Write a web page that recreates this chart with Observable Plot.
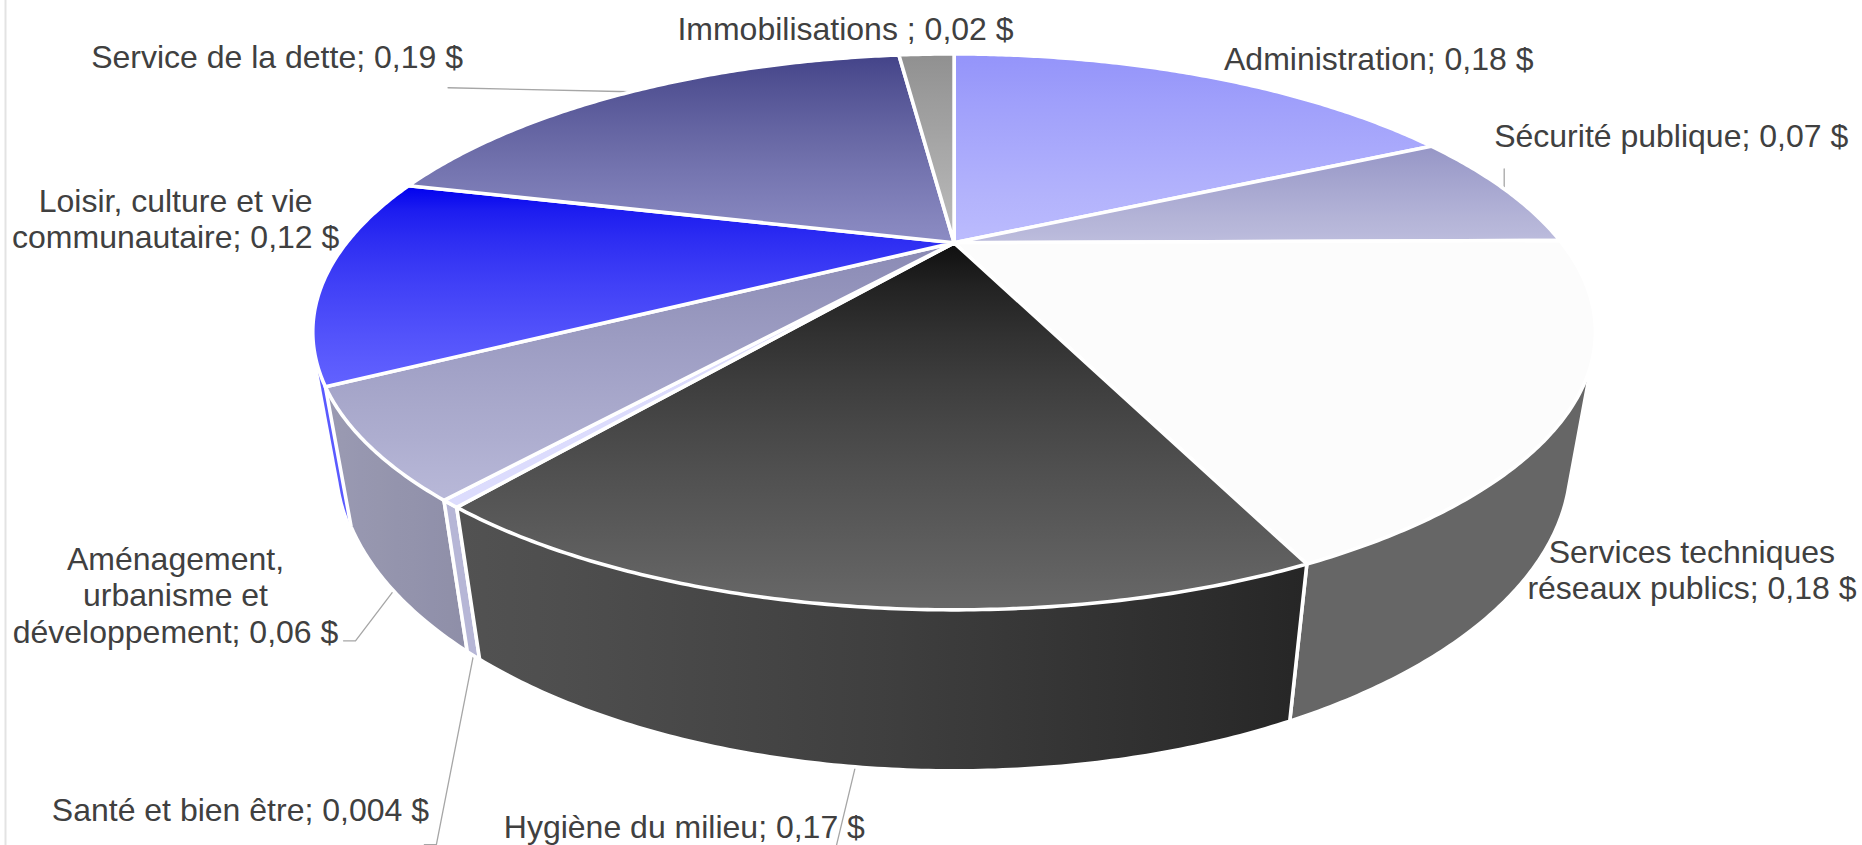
<!DOCTYPE html>
<html lang="fr">
<head>
<meta charset="utf-8">
<title>Répartition des dépenses</title>
<script src="https://cdn.jsdelivr.net/npm/d3@7"></script>
<script src="https://cdn.jsdelivr.net/npm/@observablehq/plot@0.6"></script>
<style>
  html, body { margin: 0; padding: 0; background: #fff; }
  svg { display: block; }
</style>
</head>
<body>
<div id="chart"></div>
<script>
// ---- data, in clockwise order from the top of the pie ----
const categories = ["Administration", "Sécurité publique", "Services techniques réseaux publics",
  "Hygiène du milieu", "Santé et bien être", "Aménagement, urbanisme et développement",
  "Loisir, culture et vie communautaire", "Service de la dette", "Immobilisations"];
// the slice sizes (the labels show them rounded)
const values = [0.176, 0.071, 0.183, 0.171, 0.004, 0.06, 0.12, 0.19, 0.019];
const labels = ["Administration; 0,18 $", "Sécurité publique; 0,07 $", "Services techniques\nréseaux publics; 0,18 $",
  "Hygiène du milieu; 0,17 $", "Santé et bien être; 0,004 $", "Aménagement,\nurbanisme et\ndéveloppement; 0,06 $",
  "Loisir, culture et\u00a0vie\ncommunautaire; 0,12 $", "Service de la dette; 0,19 $", "Immobilisations ; 0,02 $"];

// ---- styles ----
const topColors = [["#9494fa", "#bcbcfd"], ["#9696c6", "#bdbddd"], ["#fcfcfc", "#fcfcfc"],
  ["#0f0f0f", "#686868"], ["#dcdcfd", "#dcdcfd"], ["#8a8ab4", "#b8b8d8"],
  ["#0000ee", "#6262ff"], ["#434389", "#8c8cc4"], ["#909090", "#bcbcbc"]];
const wallColors = [null, null, ["#666666", "#666666"], ["#525252", "#262626"], ["#b6b6d6", "#b6b6d6"],
  ["#9a9ab2", "#8e8ea8"], ["#5a5aff", "#5a5aff"], null, null];
const wallOrder = [2, 6, 5, 4, 3];
const wallEdgeless = 6; // the hidden blue wall shows only as a sliver, so it keeps its whole width

// ---- layout: label offset from its slice's anchor, leader-line bends, in pixels ----
const labelOffsets = [[172.5, -18], [167, -54], [145, 22.5], [-171, 60], [-233, 154], [-218, 4], [-150, -58], [-354, -35], [-81, -26]];
const anchorOnBase = [false, false, true, true, true, true, false, false, false];
const leaderBends = [null, [[0, -20]], null, [[-19, 79]], [[-37, 189], [-49, 189]], [[-38, 50], [-50, 50]], null, [[-183, -4]], null];

// ---- the perspective of the disc ----
const W = 1862, H = 845;
const pxX = 607.5, pxY = 249.4, originX = 953.6, originY = 242.3;
const tilt = 0.3205, thicknessY = 0.515, thicknessW = 0.036;
const frameX = (5 - originX) / pxX;
function project(theta, depth = 0, r = 1) {
  const u = r * Math.sin(theta), v = -r * Math.cos(theta);
  const w = 1 - tilt * v + thicknessW * depth;
  return {x: u / w, y: (v + thicknessY * depth) / w};
}
function arc(a0, a1, depth) {
  const n = Math.max(2, Math.ceil((a1 - a0) / (Math.PI / 360)));
  return d3.range(n + 1).map(i => project(a0 + (a1 - a0) * i / n, depth));
}

const slices = d3.pie().sort(null)(values);

const gradient = (id, [c0, c1], horizontal) => {
  const g = d3.create("svg:linearGradient").attr("id", id)
    .attr("x1", 0).attr("y1", 0).attr("x2", horizontal ? 1 : 0).attr("y2", horizontal ? 0 : 1);
  const mix = d3.interpolateRgb.gamma(1.7)(c0, c1);
  d3.range(9).forEach(i => g.append("stop").attr("offset", i / 8).attr("stop-color", mix(i / 8)));
  return g.node();
};
const defs = () => {
  const d = d3.create("svg:defs");
  topColors.forEach((c, i) => d.node().append(gradient(`top${i}`, c, false)));
  wallColors.forEach((c, i) => { if (c) d.node().append(gradient(`wall${i}`, c, true)); });
  return d.node();
};

const edge = {stroke: "#fff", strokeWidth: 3.6, strokeLinejoin: "round", curve: "linear-closed", x: "x", y: "y"};

// A wall is the hull of its rim and base arcs: it keeps the straight silhouette where the
// side of the disc turns away, and its inner chord is covered by the top slices painted later.
const wallMarks = wallOrder.map(i => {
  const s = slices[i];
  const pts = [...arc(s.startAngle, s.endAngle, 0), ...arc(s.startAngle, s.endAngle, 1)];
  const hull = d3.polygonHull(pts.map(p => [p.x, p.y])).map(([x, y]) => ({x, y}));
  return Plot.line(hull, {...edge, fill: `url(#wall${i})`, ...(i === wallEdgeless ? {stroke: "none"} : {})});
});
const topMarks = slices.map((s, i) => {
  const pts = [project(0, 0, 0), ...arc(s.startAngle, s.endAngle, 0)];
  return Plot.line(pts, {...edge, fill: `url(#top${i})`});
});

const anchors = slices.map((s, i) => project((s.startAngle + s.endAngle) / 2, anchorOnBase[i] ? 1 : 0));
const offset = (p, [dx, dy]) => ({x: p.x + dx / pxX, y: p.y + dy / pxY});

const leaderMarks = leaderBends.flatMap((bends, i) => bends
  ? [Plot.line([anchors[i], ...bends.map(b => offset(anchors[i], b))],
      {x: "x", y: "y", stroke: "#a6a6a6", strokeWidth: 1.3})]
  : []);

const labelMarks = labels.map((text, i) => Plot.text([anchors[i]], {
  x: "x", y: "y", text: () => text,
  dx: labelOffsets[i][0], dy: labelOffsets[i][1],
  textAnchor: "middle", lineAnchor: "middle", lineHeight: 1.13,
  fontFamily: "'Liberation Sans', Arial, sans-serif", fontSize: 32, fill: "#404040"
}));

const chart = Plot.plot({
  width: W, height: H, margin: 0,
  style: {background: "#fff", maxWidth: "none", overflow: "visible"},
  x: {domain: [-originX / pxX, (W - originX) / pxX], range: [0, W], axis: null},
  y: {domain: [-originY / pxY, (H - originY) / pxY], range: [0, H], axis: null},
  marks: [defs, Plot.ruleX([frameX], {stroke: "#e3e3e3", strokeWidth: 2}),
    ...leaderMarks, ...wallMarks, ...topMarks, ...labelMarks]
});
document.getElementById("chart").append(chart);
</script>
</body>
</html>
